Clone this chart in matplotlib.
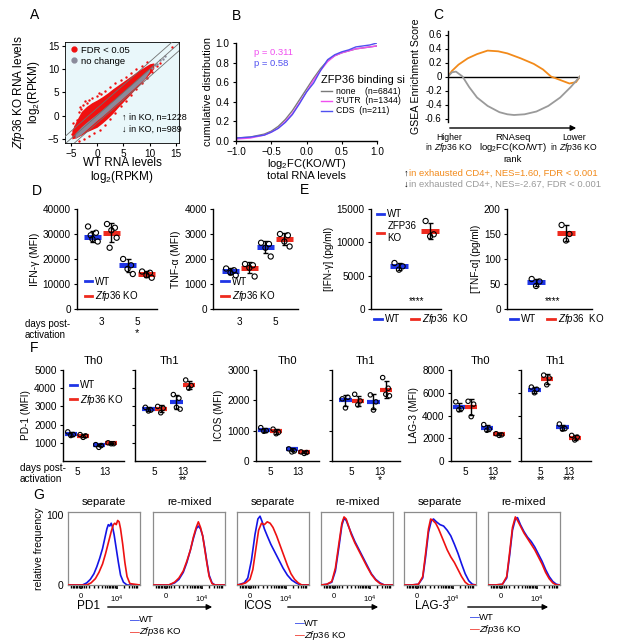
import numpy as np
import matplotlib
matplotlib.use("Agg")
import matplotlib.pyplot as plt
from matplotlib.lines import Line2D
from matplotlib.transforms import Bbox, TransformedBbox

plt.rcParams['font.family'] = ['Liberation Sans', 'DejaVu Sans']
plt.rcParams['mathtext.fontset'] = 'custom'
plt.rcParams['mathtext.rm'] = 'Liberation Sans'
plt.rcParams['mathtext.it'] = 'Liberation Sans:italic'
plt.rcParams['mathtext.bf'] = 'Liberation Sans:bold'
plt.rcParams['axes.linewidth'] = 1.0
plt.rcParams['xtick.major.size'] = 2.5
plt.rcParams['ytick.major.size'] = 2.5

# ---------------- DATA ----------------
# Panel A: scatter cloud envelope
a_env_x = [-4.8, -4, -3, -2, -1, 0, 1, 2, 3, 4, 5, 6, 7, 8, 9, 10, 10.8]
a_red_up = [-3.2, -1.2, 0.9, 2.0, 2.8, 3.4, 4.1, 4.9, 5.8, 6.6, 7.4, 8.2, 9.0, 9.8, 10.5, 11.2, 11.4]
a_red_lo = [-5.0, -4.8, -4.2, -3.5, -3.0, -2.5, -1.6, -0.6, 0.5, 1.8, 3.0, 4.2, 5.4, 6.6, 7.8, 9.0, 10.2]
a_grey_x = [-4.2, -3, -2, -1, 0, 1, 2, 3, 4, 5, 6, 7, 8, 9, 10]
a_grey_up = [-3.8, -2.4, -1.4, -0.5, 0.4, 1.3, 2.3, 3.2, 4.2, 5.2, 6.2, 7.2, 8.2, 9.2, 10.2]
a_grey_lo = [-4.9, -4.0, -3.0, -2.0, -1.0, -0.1, 0.9, 1.9, 2.9, 3.9, 4.9, 5.9, 6.9, 7.9, 9.6]
a_red_pts_x = [-4.8, -4.2, -3.9, -3.5, -3.0, -2.6, -2.0, -1.5, -1.0, 0.0, 0.8, 1.5, 2.5, 3.5, 4.5,
               5.5, 6.5, 7.5, 8.5, 9.5, 14.3, -3.5, -2.5, -1.5, -0.5, 0.5, 1.5, 2.5, 3.5, 4.5,
               5.5, 6.5, 7.5, 8.5, 9.5, 10.5, 11.5, 12.0, -4.5, -3.2, -2.2, 0.3]
a_red_pts_y = [-4.0, -2.2, -1.0, 0.8, 1.5, 2.2, 2.8, 3.4, 3.8, 4.2, 4.6, 5.4, 6.2, 7.0, 7.8,
               8.4, 9.2, 10.0, 10.8, 11.5, 14.8, -5.5, -5.0, -4.3, -3.8, -3.2, -2.0, -0.8, 0.6, 2.0,
               3.2, 4.5, 5.8, 7.0, 8.2, 9.5, 10.8, 11.4, -1.5, 1.8, 3.2, 4.8]
a_grey_pts_x = [10.5, 11.0, 11.5, 12.0, 12.5, 13.0]
a_grey_pts_y = [10.3, 10.9, 11.2, 12.1, 12.3, 12.8]
a_counts = [1228, 989]

# Panel B: cumulative distributions
b_x = [-1.0, -0.8, -0.6, -0.5, -0.4, -0.3, -0.2, -0.1, 0.0, 0.1, 0.2, 0.3, 0.4, 0.5, 0.6, 0.7, 0.8, 0.9, 1.0]
b_none = [0.03, 0.04, 0.07, 0.10, 0.15, 0.22, 0.31, 0.42, 0.53, 0.64, 0.74, 0.82, 0.87, 0.90, 0.92, 0.94, 0.95, 0.96, 0.97]
b_utr = [0.02, 0.03, 0.06, 0.09, 0.13, 0.20, 0.28, 0.39, 0.50, 0.62, 0.72, 0.81, 0.87, 0.90, 0.92, 0.94, 0.95, 0.96, 0.97]
b_cds = [0.03, 0.04, 0.06, 0.09, 0.13, 0.19, 0.27, 0.38, 0.50, 0.59, 0.72, 0.83, 0.88, 0.91, 0.93, 0.96, 0.97, 0.98, 1.00]
b_names = ['none', "3'UTR", 'CDS']
b_ns = [6841, 1344, 211]
b_pvals = ['0.311', '0.58']

# Panel C: GSEA running enrichment
c_up_x = [0, 0.03, 0.08, 0.15, 0.22, 0.3, 0.38, 0.45, 0.55, 0.65, 0.72, 0.78, 0.85, 0.92, 0.97, 1.0]
c_up_y = [0, 0.08, 0.17, 0.26, 0.32, 0.37, 0.36, 0.33, 0.26, 0.18, 0.10, 0.0, -0.05, -0.10, -0.08, 0]
c_dn_x = [0, 0.03, 0.06, 0.11, 0.16, 0.22, 0.3, 0.39, 0.45, 0.5, 0.58, 0.67, 0.76, 0.85, 0.93, 1.0]
c_dn_y = [0, 0.06, 0.07, 0.0, -0.15, -0.30, -0.42, -0.51, -0.54, -0.55, -0.54, -0.50, -0.42, -0.30, -0.15, 0]
c_nes = ['1.60', '-2.67']

# Panel D (days 3, 5)
d_days = ['3', '5']
d_ifn_wt = [[33000, 30500, 28000, 27000, 29500], [20000, 17500, 16000, 14000]]
d_ifn_ko = [[34000, 32500, 31500, 28500, 24500], [15000, 14500, 13500, 12500]]
d_ifn_wt_mean = [29000, 17500]
d_ifn_ko_mean = [30500, 14000]
d_tnf_wt = [[1620, 1550, 1450, 1350], [2650, 2600, 2450, 2100]]
d_tnf_ko = [[1800, 1750, 1650, 1300], [3000, 2950, 2700, 2500]]
d_tnf_wt_mean = [1520, 2480]
d_tnf_ko_mean = [1650, 2800]

# Panel E
e_ifn_wt = [6900, 6400, 5900]
e_ifn_ko = [13200, 11200, 10900]
e_ifn_mean = [6400, 11700]
e_tnf_wt = [60, 55, 46]
e_tnf_ko = [168, 150, 137]
e_tnf_mean = [53, 152]

# Panel F (days 5, 13): [d5, d13] per genotype; means [[wt], [ko]]
f_days = ['5', '13']
pd1_th0_wt = [[1600, 1450, 1400], [900, 850, 750]]
pd1_th0_ko = [[1450, 1380, 1300], [1000, 950, 950]]
pd1_th0_mean = [[1480, 880], [1400, 980]]
pd1_th1_wt = [[2950, 2800, 2750], [3650, 3450, 2950, 2850]]
pd1_th1_ko = [[3000, 2900, 2650], [4450, 4150, 4000]]
pd1_th1_mean = [[2850, 3230], [2880, 4180]]
icos_th0_wt = [[1100, 1000, 980], [400, 330, 300]]
icos_th0_ko = [[1050, 950, 900], [300, 280, 250]]
icos_th0_mean = [[1020, 380], [980, 290]]
icos_th1_wt = [[2050, 2100, 1750], [2180, 1950, 1680]]
icos_th1_ko = [[2200, 1980, 1850], [2750, 2400, 2200, 2150]]
icos_th1_mean = [[2000, 1950], [1980, 2350]]
lag3_th0_wt = [[5200, 4600, 4500], [3200, 2800, 2700]]
lag3_th0_ko = [[5250, 5000, 3900], [2400, 2300, 2250]]
lag3_th0_mean = [[4750, 2900], [4750, 2350]]
lag3_th1_wt = [[6500, 6300, 6000], [3250, 2850, 2800]]
lag3_th1_ko = [[7550, 7300, 6700], [2250, 2100, 1850]]
lag3_th1_mean = [[6250, 2950], [7250, 2050]]
f_stars = {'pd1': ['', '', '', '**'], 'icos': ['', '', '', '*'], 'lag3': ['', '**', '**', '***']}

# Panel G: histograms (x: fraction of display axis, y: relative frequency)
g1_wt_x = [0.00, 0.20, 0.26, 0.31, 0.36, 0.40, 0.44, 0.48, 0.51, 0.54, 0.56, 0.58, 0.60, 0.62, 0.64, 0.67, 0.70, 0.73, 0.77, 0.82, 1.00]
g1_wt_y = [0, 0, 3, 8, 16, 26, 38, 52, 66, 80, 86, 84, 88, 82, 72, 52, 32, 14, 4, 0, 0]
g1_ko_x = [0.00, 0.26, 0.32, 0.38, 0.43, 0.48, 0.52, 0.56, 0.60, 0.63, 0.65, 0.67, 0.69, 0.71, 0.73, 0.76, 0.79, 0.82, 0.86, 1.00]
g1_ko_y = [0, 0, 3, 9, 18, 30, 44, 60, 76, 86, 88, 86, 92, 90, 80, 58, 32, 12, 2, 0]
g2_x = [0, 0.22, 0.30, 0.36, 0.42, 0.47, 0.52, 0.56, 0.60, 0.63, 0.66, 0.69, 0.72, 0.75, 0.78, 0.82, 0.86, 1]
g2_wt_y = [0, 0, 3, 8, 18, 32, 50, 66, 80, 84, 80, 70, 52, 32, 14, 3, 0, 0]
g2_ko_y = [0, 0, 4, 10, 20, 34, 50, 68, 82, 90, 82, 70, 50, 30, 12, 2, 0, 0]
g3_wt_x = [0, 0.04, 0.10, 0.15, 0.20, 0.25, 0.29, 0.32, 0.35, 0.38, 0.42, 0.47, 0.52, 0.58, 0.64, 0.70, 0.76, 0.82, 0.88, 1]
g3_wt_y = [0, 1, 3, 10, 35, 72, 94, 98, 90, 80, 70, 58, 48, 36, 24, 14, 7, 3, 0, 0]
g3_ko_x = [0, 0.06, 0.12, 0.18, 0.22, 0.26, 0.30, 0.34, 0.38, 0.42, 0.46, 0.50, 0.55, 0.60, 0.65, 0.70, 0.75, 0.80, 0.85, 0.90, 1]
g3_ko_y = [0, 1, 3, 8, 22, 50, 78, 88, 86, 90, 88, 82, 70, 56, 42, 28, 16, 8, 3, 0, 0]
g4_x = [0, 0.08, 0.15, 0.20, 0.25, 0.29, 0.32, 0.35, 0.38, 0.42, 0.47, 0.52, 0.58, 0.64, 0.70, 0.76, 0.82, 0.88, 1]
g4_wt_y = [0, 1, 4, 20, 55, 85, 95, 92, 84, 74, 62, 52, 40, 28, 16, 8, 3, 0, 0]
g4_ko_y = [0, 1, 5, 24, 60, 88, 97, 94, 85, 72, 60, 50, 38, 26, 15, 7, 2, 0, 0]
g5_wt_x = [0, 0.10, 0.20, 0.26, 0.30, 0.34, 0.38, 0.41, 0.45, 0.50, 0.55, 0.60, 0.65, 0.70, 0.75, 0.80, 0.85, 0.90, 0.95, 1]
g5_wt_y = [0, 0, 1, 10, 40, 75, 92, 94, 90, 86, 84, 78, 70, 58, 45, 30, 16, 6, 1, 0]
g5_ko_x = [0, 0.10, 0.20, 0.26, 0.30, 0.34, 0.37, 0.40, 0.44, 0.48, 0.52, 0.56, 0.60, 0.65, 0.70, 0.75, 0.80, 0.85, 0.90, 1]
g5_ko_y = [0, 0, 1, 12, 45, 80, 94, 92, 88, 80, 70, 60, 50, 40, 32, 22, 12, 4, 0, 0]
g6_x = [0, 0.10, 0.20, 0.26, 0.30, 0.34, 0.38, 0.41, 0.45, 0.50, 0.55, 0.60, 0.65, 0.70, 0.75, 0.80, 0.85, 0.90, 0.95, 1]
g6_wt_y = [0, 0, 1, 10, 42, 78, 94, 96, 86, 76, 68, 62, 54, 44, 34, 22, 12, 5, 1, 0]
g6_ko_y = [0, 0, 1, 12, 46, 82, 97, 92, 84, 74, 66, 58, 50, 40, 30, 18, 9, 3, 0, 0]
g_titles = ['separate', 're-mixed'] * 3
g_markers = ['PD1', 'ICOS', 'LAG-3']

# ---------------- STYLE / LAYOUT ----------------
W, H = 617, 641
BLUE = '#1f35e6'
RED = '#ee2a1e'
fig = plt.figure(figsize=(W / 100, H / 100), dpi=100)
TS = 7.2


def add_ax(l, t, w, h):
    return fig.add_axes([l / W, 1 - (t + h) / H, w / W, h / H])


def ftext(x, y, s, **kw):
    kw.setdefault('ha', 'left')
    kw.setdefault('va', 'center')
    return fig.text(x / W, 1 - y / H, s, **kw)


def farrow(x0, x1, y, lw=1.0):
    fig.add_artist(matplotlib.patches.FancyArrowPatch(
        (x0 / W, 1 - y / H), (x1 / W, 1 - y / H), transform=fig.transFigure,
        arrowstyle='-|>', mutation_scale=8, lw=lw, color='k'))


def open_axes(ax):
    ax.spines['top'].set_visible(False)
    ax.spines['right'].set_visible(False)
    ax.tick_params(labelsize=TS, pad=2)


for lab, x, y in [('A', 30, 15), ('B', 232, 16), ('C', 433, 15), ('D', 32, 191),
                  ('E', 300, 190), ('F', 30, 348), ('G', 33, 495)]:
    ftext(x, y, lab, fontsize=10)

# ---------------- A ----------------
ax = add_ax(65, 42, 114, 101)
ax.set_facecolor('#e9f7fa')
ax.fill_between(a_env_x, a_red_lo, a_red_up, color='#f01010', lw=0, zorder=1)
ax.scatter(a_red_pts_x, a_red_pts_y, s=3, color='#f01010', lw=0, zorder=1)
ax.fill_between(a_grey_x, a_grey_lo, a_grey_up, color='#8a8a9a', lw=0, zorder=2)
ax.scatter(a_grey_pts_x, a_grey_pts_y, s=3, color='#8a8a9a', lw=0, zorder=2)
diag = np.array([-8, 18])
for off in (-1.6, 0, 1.6):
    ax.plot(diag, diag + off, color='#707070', lw=0.6, zorder=3)
ax.set_xlim(-6.1, 15.6)
ax.set_ylim(-5.9, 15.9)
ax.set_xticks([-5, 0, 5, 10, 15])
ax.set_yticks([-5, 0, 5, 10, 15])
ax.tick_params(labelsize=TS, pad=1.5)
for s in ax.spines.values():
    s.set_linewidth(0.6)
hs = [Line2D([], [], marker='o', ls='', color='#f01010', ms=3.5),
      Line2D([], [], marker='o', ls='', color='#8a8a9a', ms=3.5)]
ax.legend(hs, ['FDR < 0.05', 'no change'], loc='upper left', frameon=False, fontsize=6.8,
          handletextpad=0.1, borderpad=0.2, labelspacing=0.2, borderaxespad=0.2, handlelength=1.2)
ax.text(4.8, -0.3, '\u2191 in KO, n=%d' % a_counts[0], fontsize=6.5, va='center', clip_on=False)
ax.text(4.8, -3.0, '\u2193 in KO, n=%d' % a_counts[1], fontsize=6.5, va='center', clip_on=False)
ax.set_xlabel('WT RNA levels\nlog$_2$(RPKM)', fontsize=8.5, labelpad=-1, linespacing=0.95)
ax.set_ylabel('$\\mathit{Zfp36}$ KO RNA levels\nlog$_2$(RPKM)', fontsize=8.5, linespacing=0.95)
ax.yaxis.set_label_coords(-0.2, 0.5)

# ---------------- B ----------------
ax = add_ax(236, 43, 141, 98)
open_axes(ax)
b_cols = ['#7a7a7a', '#f050f0', '#5050f0']
for ys, c in zip([b_none, b_utr, b_cds], b_cols):
    ax.plot(b_x, ys, color=c, lw=1.0)
ax.set_xlim(-1, 1)
ax.set_ylim(0, 1.0)
ax.set_xticks([-1, -0.5, 0, 0.5, 1])
ax.set_xticklabels(['\u22121.0', '\u22120.5', '0.0', '0.5', '1.0'])
ax.set_yticks([0, 0.2, 0.4, 0.6, 0.8, 1.0])
ax.set_yticklabels(['0.0', '0.2', '0.4', '0.6', '0.8', '1.0'])
ax.text(-0.75, 0.9, 'p = ' + b_pvals[0], color=b_cols[1], fontsize=6.8, va='center')
ax.text(-0.75, 0.79, 'p = ' + b_pvals[1], color=b_cols[2], fontsize=6.8, va='center')
t = ax.text(0.2, 0.62, 'ZFP36 binding sites', fontsize=8, va='center')
t.set_clip_box(TransformedBbox(Bbox([[0, 0], [405 / W, 1]]), fig.transFigure))
t.set_clip_on(True)
gaps = ['    ', '  ', '  ']
for i, (nm, n, c, gp) in enumerate(zip(b_names, b_ns, b_cols, gaps)):
    yy = 0.51 - 0.1 * i
    ax.plot([0.21, 0.36], [yy, yy], color=c, lw=1.0)
    ax.text(0.42, yy, nm + gp + '(n=%d)' % n, fontsize=6.3, va='center', clip_on=False)
ax.set_ylabel('cumulative distribution', fontsize=7.8, labelpad=2)
ax.set_xlabel('log$_2$FC(KO/WT)\ntotal RNA levels', fontsize=8, labelpad=0, linespacing=1.0)

# ---------------- C ----------------
ax = add_ax(448, 31, 132, 91)
for k in ['top', 'right', 'bottom']:
    ax.spines[k].set_visible(False)
ax.axhline(0, color='k', lw=1.0)
ax.plot(c_up_x, c_up_y, color='#f28a1a', lw=1.3)
ax.plot(c_dn_x, c_dn_y, color='#9a9a9a', lw=1.3)
ax.set_xlim(0, 1)
ax.set_ylim(-0.65, 0.65)
ax.set_xticks([])
yt = [0.6, 0.4, 0.2, 0, -0.2, -0.4, -0.6]
ax.set_yticks(yt)
ax.set_yticklabels(['0.6', '0.4', '0.2', '0', '-0.2', '-0.4', '-0.6'])
ax.tick_params(labelsize=7, pad=2)
ax.set_ylabel('GSEA Enrichment Score', fontsize=7.6, labelpad=3)
farrow(447, 579, 128)
ftext(449, 138, 'Higher', fontsize=6.2, ha='center')
ftext(449, 148, 'in $\\mathit{Zfp36}$ KO', fontsize=6.2, ha='center')
ftext(513, 137, 'RNAseq', fontsize=6.8, ha='center')
ftext(513, 148, 'log$_2$FC(KO/WT)', fontsize=6.8, ha='center')
ftext(513, 160, 'rank', fontsize=6.8, ha='center')
ftext(574, 138, 'Lower', fontsize=6.2, ha='center')
ftext(574, 148, 'in $\\mathit{Zfp36}$ KO', fontsize=6.2, ha='center')
ftext(404, 173, '\u2191', fontsize=6.8, color='k')
ftext(409, 173, 'in exhausted CD4+, NES=%s, FDR < 0.001' % c_nes[0], fontsize=6.8, color='#f28a1a')
ftext(404, 184, '\u2193', fontsize=6.8, color='k')
ftext(409, 184, 'in exhausted CD4+, NES=%s, FDR < 0.001' % c_nes[1], fontsize=6.8, color='#9a9a9a')

# ---------------- strip helper ----------------
JIT = [-0.25, 0.2, 0.0, 0.3, -0.1]


def strip(ax, xc, pts, mean, color, bw, ms, blw=3.2):
    pts = np.asarray(pts, dtype=float)
    ax.hlines(mean, xc - bw / 2, xc + bw / 2, colors=color, lw=blw, zorder=2)
    ax.errorbar(xc, mean, yerr=pts.std(ddof=1), color='k', capsize=1.8, lw=1.0,
                capthick=1.0, zorder=3)
    offs = np.array(JIT[:len(pts)]) * bw
    ax.scatter(xc + offs, pts, s=ms, facecolors='none', edgecolors='k', lw=0.8, zorder=4)


def wk_handles():
    return [Line2D([], [], color=BLUE, lw=2), Line2D([], [], color=RED, lw=2)]


LEGKW = dict(frameon=False, handlelength=0.8, handletextpad=0.3, labelspacing=0.25,
             borderpad=0.1, borderaxespad=0.2, columnspacing=1.2)

# ---------------- D ----------------
OFF = 0.27
for (l, w, xl, wt, ko, wm, km, yt, ylab) in [
        (77, 80, (0.29, 2.57), d_ifn_wt, d_ifn_ko, d_ifn_wt_mean, d_ifn_ko_mean,
         [0, 10000, 20000, 30000, 40000], 'IFN-\u03b3 (MFI)'),
        (213, 85, (0.23, 2.66), d_tnf_wt, d_tnf_ko, d_tnf_wt_mean, d_tnf_ko_mean,
         [0, 1000, 2000, 3000, 4000], 'TNF-\u03b1 (MFI)')]:
    ax = add_ax(l, 209, w, 100)
    open_axes(ax)
    for i in range(2):
        strip(ax, i + 1 - OFF, wt[i], wm[i], BLUE, 0.5, 14, blw=3.6)
        strip(ax, i + 1 + OFF, ko[i], km[i], RED, 0.5, 14, blw=3.6)
    ax.set_xlim(*xl)
    ax.set_ylim(yt[0], yt[-1])
    ax.set_yticks(yt)
    ax.set_xticks([1, 2])
    ax.set_xticklabels(d_days)
    ax.tick_params(axis='x', length=0, pad=6, labelsize=TS)
    ax.set_ylabel(ylab, fontsize=7.5, labelpad=2)
    ax.legend(wk_handles(), ['WT', '$\\mathit{Zfp36}$ KO'], loc='lower left',
              bbox_to_anchor=(0.06, 0.03), fontsize=7, **LEGKW)
ftext(25, 324, 'days post-', fontsize=7.0)
ftext(25, 335, 'activation', fontsize=7.0)
ftext(137, 333, '*', fontsize=8, ha='center')

# ---------------- E ----------------
for (l, w, xl, wt, ko, mm, yt, ylab) in [
        (371, 70, (0.1, 2.35), e_ifn_wt, e_ifn_ko, e_ifn_mean, [0, 5000, 10000, 15000], '[IFN-\u03b3] (pg/ml)'),
        (507, 85, (0.03, 2.87), e_tnf_wt, e_tnf_ko, e_tnf_mean, [0, 50, 100, 150, 200], '[TNF-\u03b1] (pg/ml)')]:
    ax = add_ax(l, 209, w, 100)
    open_axes(ax)
    strip(ax, 1, wt, mm[0], BLUE, 0.58, 14, blw=3.6)
    strip(ax, 2, ko, mm[1], RED, 0.58, 14, blw=3.6)
    ax.set_xlim(*xl)
    ax.set_ylim(yt[0], yt[-1])
    ax.set_yticks(yt)
    ax.set_xticks([])
    ax.set_ylabel(ylab, fontsize=7.2, labelpad=2)
    ax.text(1.55, yt[-1] * 0.08, '****', fontsize=7, ha='center', va='center')
    lg = ax.legend(wk_handles(), ['WT', '$\\mathit{Zfp36}$  KO'], loc='upper left', ncol=2,
                   bbox_to_anchor=(0.0, -0.0), fontsize=7, **LEGKW)
    if l == 371:
        ax.add_artist(lg)
        ax.legend(wk_handles(), ['WT', 'ZFP36\nKO'], loc='upper left', fontsize=7,
                  bbox_to_anchor=(0.04, 1.03), **LEGKW)

# ---------------- F ----------------
f_sets = [
    ('pd1', 'PD-1 (MFI)', [1000, 2000, 3000, 4000, 5000], 5000, (63, 61), (135, 70),
     (pd1_th0_wt, pd1_th0_ko, pd1_th0_mean), (pd1_th1_wt, pd1_th1_ko, pd1_th1_mean)),
    ('icos', 'ICOS (MFI)', [0, 1000, 2000, 3000], 3000, (256, 63), (332, 68),
     (icos_th0_wt, icos_th0_ko, icos_th0_mean), (icos_th1_wt, icos_th1_ko, icos_th1_mean)),
    ('lag3', 'LAG-3 (MFI)', [0, 2000, 4000, 6000, 8000], 8000, (451, 59), (521, 70),
     (lag3_th0_wt, lag3_th0_ko, lag3_th0_mean), (lag3_th1_wt, lag3_th1_ko, lag3_th1_mean)),
]
PX = 28.0
FOFF = 0.22
for key, ylab, yt, ymax, p0, p1, s0, s1 in f_sets:
    stars = f_stars[key]
    for j, ((l, w), (wt, ko, mm), x0, title) in enumerate([(p0, s0, 0.5, 'Th0'), (p1, s1, 0.3, 'Th1')]):
        ax = add_ax(l, 370, w, 91)
        open_axes(ax)
        for i in range(2):
            strip(ax, i + 1 - FOFF, wt[i], mm[0][i], BLUE, 0.44, 10, blw=3.0)
            strip(ax, i + 1 + FOFF, ko[i], mm[1][i], RED, 0.44, 10, blw=3.0)
        ax.set_xlim(x0, x0 + w / PX)
        ax.set_ylim(0, ymax)
        ax.set_yticks(yt)
        ax.set_xticks([1, 2])
        ax.set_xticklabels(f_days)
        ax.tick_params(axis='x', length=0, pad=4, labelsize=TS)
        ax.set_title(title, fontsize=8.2, pad=4)
        if j == 0:
            ax.set_ylabel(ylab, fontsize=7.2, labelpad=2)
        else:
            ax.set_yticklabels([])
        for i in range(2):
            st = stars[2 * j + i]
            if st:
                ax.text(i + 1, -0.215 * ymax, st, fontsize=7.5, ha='center', va='center', clip_on=False)
        if key == 'pd1' and j == 0:
            ax.legend(wk_handles(), ['WT', '$\\mathit{Zfp36}$ KO'], loc='upper left',
                      bbox_to_anchor=(0.06, 0.92), fontsize=7, **LEGKW)
ftext(20, 468, 'days post-', fontsize=7.2)
ftext(20, 479, 'activation', fontsize=7.2)

# ---------------- G ----------------
g_curves = [
    (g1_wt_x, g1_wt_y, g1_ko_x, g1_ko_y),
    (g2_x, g2_wt_y, g2_x, g2_ko_y),
    (g3_wt_x, g3_wt_y, g3_ko_x, g3_ko_y),
    (g4_x, g4_wt_y, g4_x, g4_ko_y),
    (g5_wt_x, g5_wt_y, g5_ko_x, g5_ko_y),
    (g6_x, g6_wt_y, g6_x, g6_ko_y),
]
g_lefts = [68, 153, 237, 321, 404, 488]
minor = [0.04, 0.07, 0.09, 0.11, 0.13, 0.15, 0.2, 0.22, 0.25, 0.29, 0.36, 0.42, 0.47, 0.51,
         0.54, 0.57, 0.59, 0.61, 0.63, 0.65, 0.78, 0.85, 0.89, 0.92, 0.94, 0.96]
for k, (l, (wx, wy, kx, ky)) in enumerate(zip(g_lefts, g_curves)):
    ax = add_ax(l, 512, 72, 73)
    ax.plot(kx, ky, color='#ee1111', lw=1.2, zorder=3)
    ax.plot(wx, wy, color='#1414e6', lw=1.2, zorder=2)
    ax.set_xlim(0, 1)
    ax.set_ylim(0, 104)
    for s in ax.spines.values():
        s.set_color('#8c8c8c')
        s.set_linewidth(0.9)
    ax.set_xticks([0.18, 0.68])
    ax.set_xticklabels(['0', '$10^4$'], fontsize=5.5)
    ax.set_xticks(minor, minor=True)
    ax.tick_params(axis='x', which='major', length=3, width=1.2, color='k', pad=3)
    ax.tick_params(axis='x', which='minor', length=2, width=1.0, color='k')
    ax.set_title(g_titles[k], fontsize=8.2, pad=5)
    if k == 0:
        ax.set_yticks([0, 100])
        ax.tick_params(axis='y', length=0, labelsize=7.5, pad=3)
        ax.set_ylabel('relative frequency', fontsize=7.5, labelpad=2)
    else:
        ax.set_yticks([])

for nm, xt, a0, a1, lx, ly in [(g_markers[0], 88, 105, 215, 130, 620),
                               (g_markers[1], 258, 285, 381, 295, 623),
                               (g_markers[2], 432, 465, 551, 470, 617)]:
    ftext(xt, 606, nm, fontsize=8.5, ha='center')
    farrow(a0, a1, 607)
    ftext(lx, ly, '\u2014', color=BLUE, fontsize=7)
    ftext(lx + 9, ly, 'WT', fontsize=6.8)
    ftext(lx, ly + 12, '\u2014', color=RED, fontsize=7)
    ftext(lx + 9, ly + 12, '$\\mathit{Zfp36}$ KO', fontsize=6.8)

fig.savefig('out.png', dpi=100)
